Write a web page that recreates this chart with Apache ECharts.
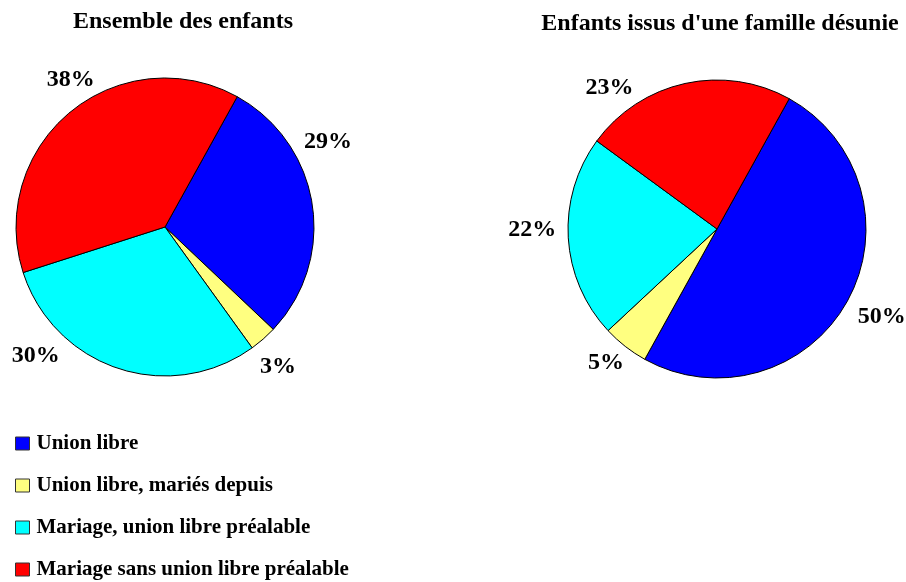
<!DOCTYPE html>
<html>
<head>
<meta charset="utf-8">
<script src="https://cdn.jsdelivr.net/npm/echarts@6/dist/echarts.min.js"></script>
<style>
  html, body { margin: 0; padding: 0; background: #fff; }
  #chart { width: 906px; height: 582px; }
</style>
</head>
<body>
<div id="chart"></div>
<script>
var categories = ['Union libre', 'Union libre, mariés depuis', 'Mariage, union libre préalable', 'Mariage sans union libre préalable'];
var colors = ['#0000ff', '#ffff80', '#00ffff', '#ff0000'];
var ensembleValues = [29, 3, 30, 38];
var desunieValues = [50, 5, 22, 23];
var titles = ['Ensemble des enfants', "Enfants issus d'une famille désunie"];

// label nudges (the original labels were moved by hand)
var ensembleOffsets = [[-25, -61], [-16, 19], [-50, -24], [37, -23]];
var desunieOffsets = [[-5, 10], [11, 7], [5, -9], [-44, 16]];

var font = '"Liberation Serif", "Times New Roman", serif';

function buildData(values, offsets) {
    var out = [];
    for (var i = 0; i < values.length; i++) {
        out.push({
            name: categories[i],
            value: values[i],
            itemStyle: { color: colors[i] },
            label: { offset: offsets[i] }
        });
    }
    return out;
}

function pieSeries(values, offsets, center) {
    return {
        type: 'pie',
        center: center,
        radius: 149,
        startAngle: 61,
        clockwise: true,
        animation: false,
        data: buildData(values, offsets),
        itemStyle: { borderColor: '#000', borderWidth: 1 },
        label: {
            show: true,
            position: 'outside',
            formatter: '{c}%',
            fontFamily: font,
            fontWeight: 'bold',
            fontSize: 24,
            color: '#000',
            overflow: 'none'
        },
        labelLine: { show: false, length: 12, length2: 0 },
        emphasis: { disabled: true }
    };
}

var myChart = echarts.init(document.getElementById('chart'));

var option = {
    backgroundColor: '#fff',
    title: [{
        text: titles[0],
        left: 178, top: 5, textAlign: 'center',
        textStyle: { fontFamily: font, fontWeight: 'bold', fontSize: 24, color: '#000' }
    }, {
        text: titles[1],
        left: 715, top: 7, textAlign: 'center',
        textStyle: { fontFamily: font, fontWeight: 'bold', fontSize: 24, color: '#000' }
    }],
    legend: {
        orient: 'vertical',
        left: 15, top: 433,
        padding: 0,
        icon: 'rect',
        itemWidth: 14, itemHeight: 13,
        itemGap: 21,
        itemStyle: { borderColor: '#333', borderWidth: 1 },
        textStyle: { fontFamily: font, fontWeight: 'bold', fontSize: 21, color: '#000', padding: [0, 0, 0, 2] },
        data: categories,
        selectedMode: false
    },
    series: [
        pieSeries(ensembleValues, ensembleOffsets, [165, 227]),
        pieSeries(desunieValues, desunieOffsets, [717, 229])
    ]
};

myChart.setOption(option);
</script>
</body>
</html>
